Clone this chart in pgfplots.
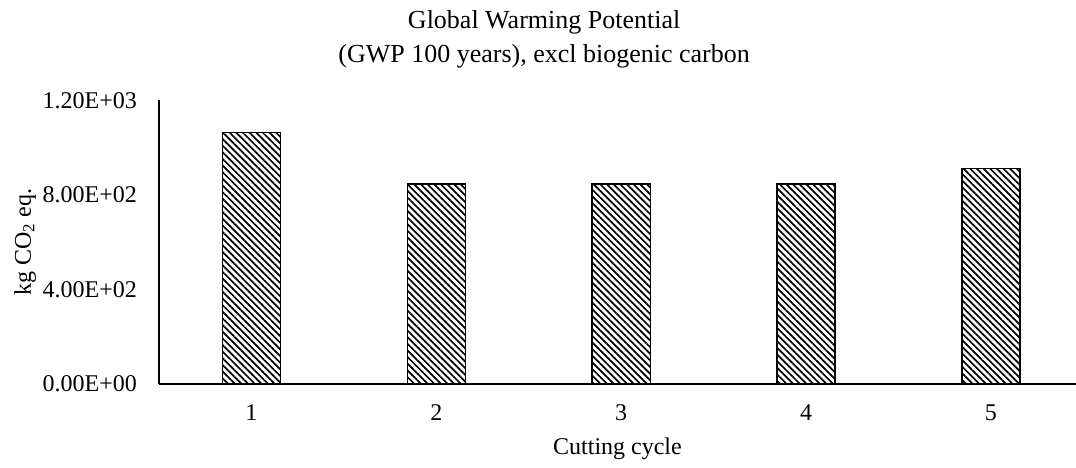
\documentclass[border=0pt]{standalone}
\usepackage{pgfplots}
\pgfplotsset{compat=1.18}
\usepackage{fontspec}
\setmainfont{Liberation Serif}
\usetikzlibrary{patterns.meta}
\begin{document}
\begin{tikzpicture}
\useasboundingbox (-159pt,-84pt) rectangle (917pt,384pt);
\begin{axis}[
  at={(0pt,0pt)}, anchor=south west,
  scale only axis,
  width=917pt, height=283.7pt,
  xmin=0.5, xmax=5.46,
  ymin=0, ymax=1200,
  axis x line=bottom, axis y line=left,
  axis line style={-, line width=1.4pt, black},
  xtick={1,2,3,4,5},
  xticklabels={1,2,3,4,5},
  ytick={0,400,800,1200},
  yticklabels={0.00E+00,4.00E+02,8.00E+02,1.20E+03},
  tick style={draw=none},
  major tick length=0pt,
  yticklabel style={anchor=east, inner sep=0pt, xshift=-22pt, font=\fontsize{24}{28}\selectfont},
  xticklabel style={anchor=base, inner sep=0pt, yshift=-37pt, font=\fontsize{24}{28}\selectfont},
  xlabel={Cutting cycle},
  xlabel style={at={(axis description cs:0.5,0)}, anchor=base, inner sep=0pt, yshift=-71pt, font=\fontsize{24}{28}\selectfont},
  ylabel={kg CO\textsubscript{2} eq.},
  ylabel style={at={(axis description cs:-0.1461,0.5)}, rotate=0, anchor=center, inner sep=0pt, font=\fontsize{24}{28}\selectfont},
  clip=false,
]
\addplot[ybar, bar width=58pt, draw=black, line width=1.4pt,
  pattern={Lines[angle=-45, distance=4.7pt, line width=1.7pt]}, pattern color=black]
  coordinates {(1,1063) (2,846) (3,846) (4,846) (5,911)};
\node[anchor=base, inner sep=0pt, font=\fontsize{26}{30}\selectfont] at ([yshift=72pt]axis description cs:0.42,1) {Global Warming Potential};
\node[anchor=base, inner sep=0pt, font=\fontsize{26}{30}\selectfont] at ([yshift=38pt]axis description cs:0.42,1) {(GWP 100 years), excl biogenic carbon};
\end{axis}
\end{tikzpicture}
\end{document}
